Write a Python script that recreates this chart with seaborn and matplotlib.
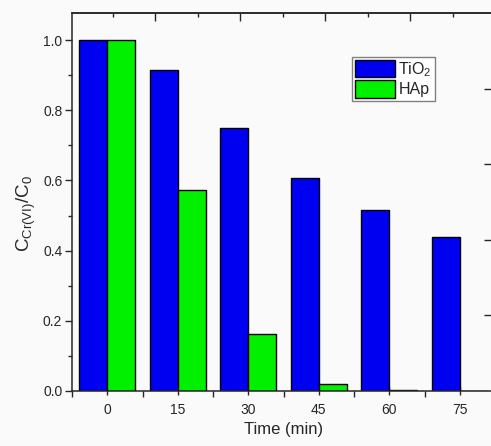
import matplotlib
matplotlib.use("Agg")
import matplotlib.pyplot as plt
from matplotlib.patches import Patch
from matplotlib.ticker import MultipleLocator, FixedLocator
import seaborn as sns
import pandas as pd

# data
times = [0, 15, 30, 45, 60, 75]
tio2 = [1.0, 0.914, 0.748, 0.608, 0.516, 0.44]
hap = [1.0, 0.572, 0.161, 0.019, 0.002, 0.0]
samples = ["TiO$_2$", "HAp"]
colors = ["#0000F0", "#00F000"]

df = pd.DataFrame({
    "time": times * 2,
    "value": tio2 + hap,
    "sample": [samples[0]] * len(times) + [samples[1]] * len(times),
})

sns.set_style("ticks")
plt.rcParams["font.family"] = ["Liberation Sans", "DejaVu Sans"]
plt.rcParams["mathtext.fontset"] = "custom"
plt.rcParams["mathtext.rm"] = "Liberation Sans"
plt.rcParams["mathtext.it"] = "Liberation Sans"

fig = plt.figure(figsize=(4.91, 4.46), dpi=100, facecolor="#fafafa")
ax = fig.add_axes([72 / 491, 55 / 446, 423 / 491, 378 / 446])
ax.set_facecolor("#fafafa")

sns.barplot(data=df, x="time", y="value", hue="sample", palette=colors,
            saturation=1, edgecolor="black", linewidth=1.0, width=0.8, gap=0,
            legend=False, ax=ax)

ax.set_xlim(-0.5, 5.5)
ax.set_ylim(0, 1.077)
ax.yaxis.set_minor_locator(MultipleLocator(0.1))
ax.set_yticks([0, 0.2, 0.4, 0.6, 0.8, 1.0])
ax.set_yticklabels(["0.0", "0.2", "0.4", "0.6", "0.8", "1.0"])
ax.xaxis.set_minor_locator(FixedLocator([-0.5, 0.5, 1.5, 2.5, 3.5, 4.5]))
ax.tick_params(axis="y", which="major", direction="out", length=5, width=1, labelsize=10, pad=2)
ax.tick_params(axis="y", which="minor", direction="out", length=3, width=1)
ax.tick_params(axis="x", which="major", direction="inout", length=6, width=1, labelsize=10, pad=6)
ax.tick_params(axis="x", which="minor", direction="out", length=4, width=1)
for s in ["left", "bottom", "top"]:
    ax.spines[s].set_linewidth(1.1)
ax.spines["right"].set_visible(False)

ax.set_xlabel("Time (min)", fontsize=12, labelpad=3)
ax.set_ylabel(r"$\mathrm{C_{Cr(VI)}/C_0}$", fontsize=13.5)
ax.yaxis.set_label_coords(-0.08, 0.47)

handles = [Patch(facecolor=c, edgecolor="black", linewidth=1) for c in colors]
leg = ax.legend(handles, samples, loc="upper left", bbox_to_anchor=(0.662, 0.884),
                borderaxespad=0, fontsize=11.5, handlelength=2.5, handleheight=1.3,
                handletextpad=0.2, labelspacing=0.1, borderpad=0.2,
                fancybox=False, framealpha=1, edgecolor="#808080")
leg.get_frame().set_linewidth(1)

# odd top and right tick marks of the original frame
ax_top = ax.twiny()
ax_top.set_xlim(-0.965, 8.99)
ax_top.xaxis.set_major_locator(FixedLocator([1, 3, 5, 7]))
ax_top.xaxis.set_minor_locator(FixedLocator([0, 2, 4, 6, 8]))
ax_top.tick_params(axis="x", which="major", direction="in", length=6, width=1, labeltop=False)
ax_top.tick_params(axis="x", which="minor", direction="in", length=3, width=1)
for s in ["left", "right", "bottom"]:
    ax_top.spines[s].set_visible(False)
ax_top.spines["top"].set_linewidth(1.1)

ax_right = ax.twinx()
ax_right.set_ylim(0, 5)
ax_right.set_yticks([1, 2, 3, 4])
ax_right.tick_params(axis="y", direction="in", length=8, width=1, labelright=False)
for s in ax_right.spines.values():
    s.set_visible(False)

fig.savefig("out.png", dpi=100, facecolor=fig.get_facecolor())
